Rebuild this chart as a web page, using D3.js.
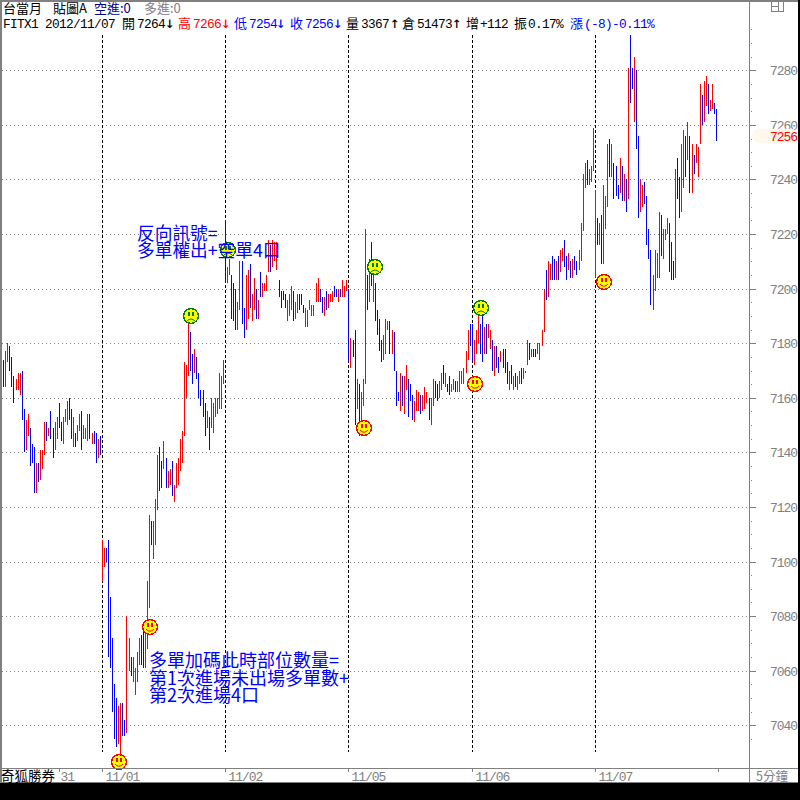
<!DOCTYPE html>
<html>
<head>
<meta charset="utf-8">
<script src="https://cdn.jsdelivr.net/npm/d3@7"></script>
<style>
  html, body { margin: 0; padding: 0; background: #fff; }
  svg { display: block; }
  text { font-family: "Liberation Mono", monospace; }
  .cjk { font-family: "Noto Sans CJK TC", sans-serif; }
  .arrow { font-family: "DejaVu Sans Mono", monospace; }
</style>
</head>
<body>
<svg id="svg"></svg>
<script>
// 5 minute bars, one line per session
const highs = [
  7174,7177,7180,7179,7175,7168,7167,7169,7169,7170,7156,7152,7154,7149,7143,7142,7136,7136,7141,7141,7151,7151,7149,7155,7149,7151,7153,7158,7151,7153,7156,7159,7160,7156,7153,7147,7150,7154,7155,7150,7149,7154,7154,7147,7148,7147,7145,7146,
  7108,7105,7105,7108,7087,7072,7055,7050,7047,7048,7048,7042,7080,7072,7065,7065,7061,7067,7072,7073,7075,7075,7093,7117,7115,7115,7123,7139,7142,7137,7144,7138,7133,7134,7137,7128,7136,7138,7145,7148,7173,7172,7187,7184,7176,7178,7175,7169,7163,7163,7158,7155,7153,7160,7158,7160,7160,7169,7168,7174,
  7225,7208,7211,7205,7202,7200,7195,7210,7210,7193,7205,7207,7209,7198,7204,7200,7196,7206,7202,7202,7205,7218,7216,7218,7217,7217,7203,7199,7199,7198,7196,7198,7201,7199,7195,7198,7198,7198,7194,7193,7192,7196,7194,7194,7202,7204,7200,7197,7197,7199,7198,7198,7199,7201,7200,7200,7200,7203,7201,7203,
  7200,7182,7181,7185,7167,7165,7162,7167,7222,7205,7211,7217,7211,7202,7192,7189,7181,7183,7189,7188,7188,7185,7184,7170,7162,7169,7168,7168,7172,7167,7165,7161,7159,7163,7162,7161,7161,7164,7162,7160,7160,7167,7166,7165,7166,7169,7172,7169,7165,7168,7165,7167,7166,7166,7170,7170,7171,7177,7185,7187,
  7187,7181,7185,7190,7187,7190,7186,7187,7187,7185,7181,7179,7179,7175,7177,7178,7178,7173,7170,7172,7168,7169,7168,7170,7171,7171,7170,7181,7180,7178,7178,7178,7180,7180,7185,7200,7207,7210,7209,7212,7211,7210,7212,7214,7215,7218,7212,7213,7210,7211,7212,7210,7214,7224,7242,7246,7247,7244,7245,7259,
  7236,7226,7224,7227,7238,7234,7253,7255,7253,7246,7245,7238,7248,7245,7242,7240,7281,7293,7281,7285,7280,7256,7240,7238,7239,7234,7222,7214,7205,7214,7213,7228,7227,7222,7222,7226,7224,7217,7210,7244,7248,7241,7253,7258,7256,7261,7256,7253,7249,7253,7252,7275,7271,7276,7278,7275,7269,7275,7268,7266
];
const lows = [
  7164,7164,7173,7170,7164,7158,7163,7163,7161,7152,7140,7141,7146,7135,7136,7125,7125,7129,7130,7134,7139,7144,7146,7145,7138,7141,7145,7149,7144,7143,7151,7150,7152,7145,7142,7142,7144,7148,7141,7145,7145,7144,7145,7143,7143,7136,7138,7139,
  7093,7098,7100,7065,7061,7045,7035,7032,7033,7028,7036,7036,7037,7060,7058,7056,7051,7056,7062,7062,7061,7061,7068,7083,7106,7101,7106,7119,7126,7127,7134,7127,7127,7128,7124,7122,7127,7128,7133,7136,7146,7160,7168,7170,7165,7169,7167,7160,7157,7153,7146,7149,7141,7149,7147,7153,7154,7156,7156,7165,
  7202,7202,7205,7189,7188,7185,7185,7192,7187,7182,7185,7189,7193,7188,7192,7189,7189,7197,7197,7199,7199,7206,7206,7208,7210,7207,7197,7193,7196,7193,7188,7190,7192,7188,7189,7191,7192,7194,7191,7186,7186,7192,7190,7190,7195,7195,7195,7191,7190,7192,7193,7195,7195,7197,7197,7195,7197,7197,7197,7199,
  7173,7171,7175,7150,7156,7146,7152,7157,7165,7192,7195,7201,7195,7188,7183,7177,7173,7174,7176,7185,7176,7176,7170,7157,7159,7155,7157,7154,7163,7153,7159,7152,7151,7155,7155,7154,7155,7156,7158,7152,7150,7157,7160,7159,7160,7163,7165,7164,7162,7161,7162,7163,7162,7162,7162,7165,7165,7169,7174,7179,
  7173,7172,7176,7180,7176,7173,7176,7176,7182,7178,7170,7168,7171,7169,7173,7171,7169,7165,7163,7165,7163,7164,7163,7165,7165,7167,7169,7172,7174,7175,7175,7175,7176,7174,7179,7184,7196,7197,7203,7203,7203,7203,7203,7206,7210,7208,7203,7207,7204,7204,7207,7205,7207,7210,7221,7237,7238,7238,7239,7243,
  7204,7216,7216,7209,7209,7222,7230,7241,7241,7233,7234,7233,7235,7232,7232,7228,7233,7268,7273,7261,7251,7226,7228,7230,7231,7216,7211,7194,7192,7199,7204,7204,7212,7211,7218,7220,7206,7203,7203,7204,7233,7226,7228,7237,7241,7247,7235,7235,7242,7246,7241,7253,7260,7261,7267,7264,7265,7266,7264,7254
];
// 1 = red bar, 0 = blue bar
const ups = [
  0,1,1,0,0,0,1,1,1,0,0,1,1,0,0,0,1,0,1,1,1,0,1,0,0,1,1,0,0,1,1,1,0,0,1,0,1,1,0,1,1,1,0,1,0,0,1,0,
  1,1,0,0,0,0,0,0,1,1,0,0,1,1,0,1,1,1,1,0,0,1,1,1,0,1,1,1,0,0,1,0,1,1,0,1,1,1,1,1,1,1,1,0,0,1,0,0,0,0,0,1,0,1,1,1,1,1,1,1,
  0,1,1,0,0,0,1,1,0,0,1,1,0,1,1,0,1,0,1,1,1,1,0,1,1,1,0,0,0,0,1,1,1,0,1,1,0,0,0,1,1,1,1,1,1,1,0,0,1,0,1,1,1,0,0,1,0,1,1,1,
  0,1,0,0,1,0,1,1,1,0,1,0,1,0,0,0,0,1,1,1,0,1,0,0,0,1,0,1,1,0,0,0,1,1,1,0,1,1,1,0,1,1,0,0,1,1,0,1,0,0,1,1,0,1,1,1,1,1,1,0,
  0,1,1,1,0,0,1,0,1,1,0,1,0,0,1,0,0,0,1,0,1,0,1,1,0,1,1,1,0,1,0,0,1,1,1,1,0,1,1,0,0,1,0,1,1,0,0,1,0,1,0,0,1,1,1,1,0,1,1,1,
  1,0,1,0,1,1,1,0,1,0,0,0,1,0,1,0,1,0,0,1,0,0,1,1,0,0,0,0,1,1,1,1,0,1,1,1,0,0,0,1,0,0,1,1,0,1,0,1,0,1,1,1,0,1,1,0,1,1,0,0
];

const priceTicks = [7280,7260,7240,7220,7200,7180,7160,7140,7120,7100,7080,7060,7040];
const minorTicks = d3.range(7035, 7296, 5).filter(d => d % 20 !== 0);
const lastClose = 7256;

const sessionStarts = [48,108,168,228,288];
const dateTicks = [27,48,108,168,228,288,348];
const dateLabels = ["31","11/01","11/02","11/05","11/06","11/07",""];

const happyIdx = [56.4,71.4,175.6,229.6,292.4];
const happyPrice = [7026.5,7076,7149,7165,7202.5];
const sadIdx = [91.4,109.4,181,232.6];
const sadPrice = [7190,7214,7208,7193];

const noteOne = ["反向訊號=","多單權出+空單4口"];
const noteTwo = ["多單加碼此時部位數量=","第1次進場未出場多單數+","第2次進場4口"];

let layout = {"width":800, "height":800, "axisX":749, "axisY":768, "bottom":783};

let svg = d3.select("#svg").attr("width", layout.width).attr("height", layout.height);

let x = d3.scaleLinear().domain([0, 347]).range([3.2, 716.2]);
let y = d3.scaleLinear().domain([7040, 7280]).range([725.3, 70.3]);
let px = i => Math.round(x(i)) + 0.5;
let py = p => Math.round(y(p)) + 0.5;

const gray = "#808080";

// grid
svg.append("g").attr("shape-rendering", "crispEdges")
  .selectAll("line").data(priceTicks).join("line")
  .attr("x1", 2).attr("x2", layout.axisX)
  .attr("y1", d => py(d)).attr("y2", d => py(d))
  .attr("stroke", gray).attr("stroke-dasharray", "1 3");

// session separators
svg.append("g").attr("shape-rendering", "crispEdges")
  .selectAll("line").data(sessionStarts).join("line")
  .attr("x1", d => px(d)).attr("x2", d => px(d))
  .attr("y1", 35).attr("y2", 752)
  .attr("stroke", "#000").attr("stroke-dasharray", "3 2");

// bars
svg.append("g").attr("shape-rendering", "crispEdges")
  .selectAll("line").data(highs).join("line")
  .attr("x1", (d, i) => px(i)).attr("x2", (d, i) => px(i))
  .attr("y1", d => Math.round(y(d)))
  .attr("y2", (d, i) => Math.round(y(lows[i])))
  .attr("stroke", (d, i) => ups[i] ? "#ff0000" : "#0000ff");

// smileys
function face(idx, price, happy) {
  let col = happy ? "#ff0000" : "#008000";
  let g = svg.append("g")
    .attr("transform", `translate(${Math.round(x(idx))},${Math.round(y(price))})`);
  g.append("circle").attr("r", 7.4).attr("fill", "#ffff00").attr("stroke", col)
    .attr("stroke-width", 1.3).attr("shape-rendering", "crispEdges");
  g.append("rect").attr("x", -3).attr("y", -4).attr("width", 2).attr("height", 4).attr("fill", col);
  g.append("rect").attr("x", 1).attr("y", -4).attr("width", 2).attr("height", 4).attr("fill", col);
  g.append("path")
    .attr("d", happy ? "M-4,2Q0,6.5 4,2" : "M-4,5Q0,1 4,5")
    .attr("fill", "none").attr("stroke", col);
}
happyIdx.forEach((d, i) => face(d, happyPrice[i], true));
sadIdx.forEach((d, i) => face(d, sadPrice[i], false));

// notes over the chart
svg.selectAll(".noteOne").data(noteOne).join("text")
  .attr("class", "cjk noteOne")
  .attr("x", 137).attr("y", (d, i) => 240 + i * 17)
  .attr("font-size", 17.7).attr("fill", "#0000ff")
  .text(d => d);
svg.selectAll(".noteTwo").data(noteTwo).join("text")
  .attr("class", "cjk noteTwo")
  .attr("x", 149).attr("y", (d, i) => 667 + i * 17.5)
  .attr("font-size", 18).attr("fill", "#0000ff")
  .text(d => d);

// frame
svg.append("g").attr("shape-rendering", "crispEdges").call(g => {
  g.append("rect").attr("x", 0).attr("y", 0).attr("width", 800).attr("height", 1.5).attr("fill", gray);
  g.append("rect").attr("x", 0).attr("y", 0).attr("width", 1.5).attr("height", layout.bottom).attr("fill", gray);
  g.append("rect").attr("x", 0).attr("y", layout.axisY).attr("width", 798).attr("height", 1).attr("fill", gray);
  g.append("rect").attr("x", layout.axisX).attr("y", 0).attr("width", 1).attr("height", layout.bottom).attr("fill", gray);
  g.append("rect").attr("x", 0).attr("y", layout.bottom - 1).attr("width", 800).attr("height", 1).attr("fill", gray);
  g.append("rect").attr("x", 0).attr("y", layout.bottom).attr("width", 800).attr("height", 17).attr("fill", "#000");
  g.append("rect").attr("x", 798).attr("y", 0).attr("width", 2).attr("height", 800).attr("fill", "#000");
});

// price axis
let yAxis = svg.append("g").attr("transform", `translate(${layout.axisX + 0.5},0)`)
  .call(d3.axisRight(y).tickValues(priceTicks).tickFormat(d3.format("d")).tickSize(6).tickSizeOuter(0));
yAxis.select(".domain").remove();
yAxis.selectAll("line").attr("stroke", gray).attr("shape-rendering", "crispEdges");
yAxis.selectAll("text").attr("x", 47.5).attr("text-anchor", "end").attr("dy", 4.5)
  .attr("font-family", "Liberation Mono").attr("font-size", 13).attr("letter-spacing", -1.05).attr("fill", gray);
let yMinor = svg.append("g").attr("transform", `translate(${layout.axisX + 2},0)`)
  .call(d3.axisRight(y).tickValues(minorTicks).tickSize(1).tickFormat(""));
yMinor.select(".domain").remove();
yMinor.selectAll("line").attr("stroke", gray).attr("shape-rendering", "crispEdges");

// last price tag
svg.append("rect").attr("x", 752).attr("y", y(lastClose) - 7)
  .attr("width", 46).attr("height", 14).attr("rx", 7).attr("fill", "#fff8ec");
svg.append("text").attr("x", 797).attr("y", y(lastClose) + 5)
  .attr("text-anchor", "end").attr("font-size", 13).attr("letter-spacing", -1.05)
  .attr("fill", "#ff0000").text(lastClose);

// date axis
let dateAxis = svg.append("g")
  .attr("transform", `translate(0,${layout.axisY + 0.5})`);
dateAxis.selectAll("line").data(dateTicks).join("line")
  .attr("x1", d => px(d)).attr("x2", d => px(d)).attr("y1", 0).attr("y2", 3)
  .attr("stroke", gray).attr("shape-rendering", "crispEdges");
dateAxis.selectAll("text").data(dateLabels).join("text")
  .attr("x", (d, i) => px(dateTicks[i]) + (i === 0 ? 1 : 3)).attr("y", 12)
  .attr("font-size", 13).attr("letter-spacing", -1.05).attr("fill", gray).text(d => d);

svg.append("rect").attr("x", 2).attr("y", 769).attr("width", 54).attr("height", 13).attr("fill", "#fff");
svg.append("text").attr("class", "cjk").attr("x", 1).attr("y", 780.5)
  .attr("font-size", 13.5).attr("fill", "#000").text("奇狐勝券");
svg.append("text").attr("class", "cjk").attr("x", 756).attr("y", 780.5)
  .attr("font-size", 12.5).attr("fill", gray).text("5分鐘");

// little window icon
svg.append("g").attr("fill", "none").attr("stroke", gray).attr("shape-rendering", "crispEdges").call(g => {
  g.append("rect").attr("x", 771.5).attr("y", 1.5).attr("width", 12).attr("height", 9.5);
  g.append("path").attr("d", "M778.5,1.5V11M771.5,6.5H778.5");
});

// header lines, each piece placed where the reference has it
const line1 = [["台當月",3,"#000"],["貼圖A",53,"#000"],["空進:0",94,"#000080"],["多進:0",144,gray]];
const line2 = [
  ["FITX1 2012/11/07",3,"#000"],["開",122,"#000"],["7264",137,"#000"],["↓",165,"#000"],
  ["高",178,"#f00"],["7266",193,"#f00"],["↓",221,"#f00"],["低",234,"#00f"],["7254",249,"#00f"],["↓",276,"#00f"],
  ["收",290,"#00f"],["7256",305,"#00f"],["↓",333,"#00f"],["量",346,"#000"],["3367",361,"#000"],["↑",390,"#000"],
  ["倉",402,"#000"],["51473",417,"#000"],["↑",452,"#000"],["增",466,"#000"],["+112",480,"#000"],
  ["振",514,"#000"],["0.17%",528,"#000"],["漲",570,"#00f"],["(-8)-0.11%",584,"#00f"]
];
const isCjk = s => /[\u4e00-\u9fff]/.test(s);
const isArrow = s => /[↓↑]/.test(s);
function header(items, base) {
  svg.selectAll(null).data(items).join("text")
    .attr("class", d => isCjk(d[0]) ? "cjk" : isArrow(d[0]) ? "arrow" : null)
    .attr("x", d => d[1]).attr("y", base)
    .attr("font-size", d => isCjk(d[0]) ? 13 : isArrow(d[0]) ? 16 : 12.8)
    .attr("letter-spacing", d => isCjk(d[0]) || isArrow(d[0]) ? 0 : -0.68)
    .attr("fill", d => d[2]).text(d => d[0]);
}
header(line1, 13);
header(line2, 27.5);
</script>
</body>
</html>
